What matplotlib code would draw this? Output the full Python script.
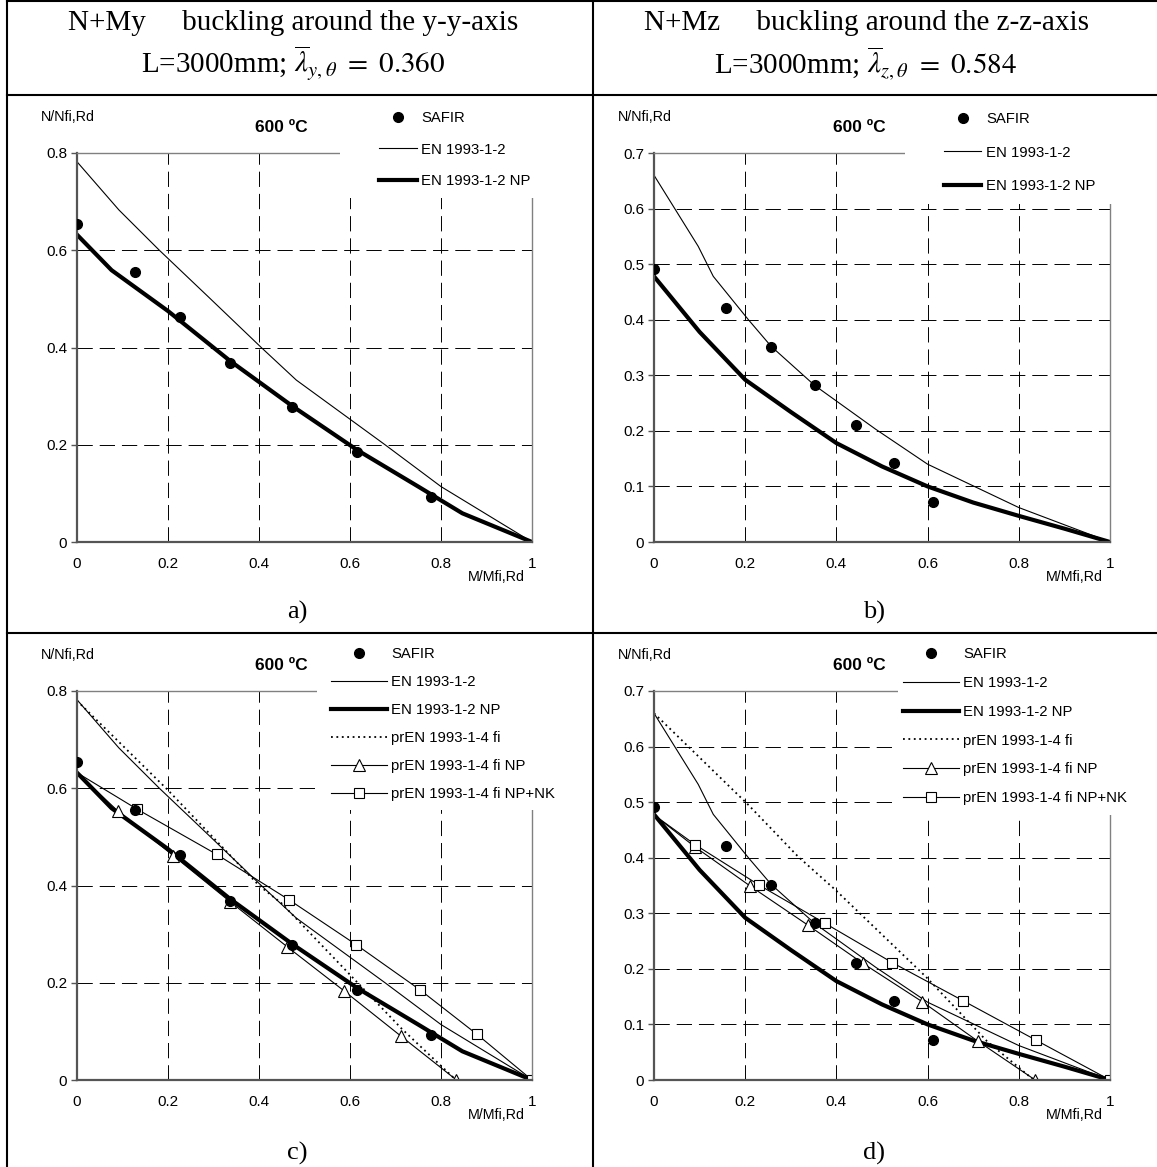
import matplotlib
matplotlib.use("Agg")
import matplotlib.pyplot as plt
from matplotlib.lines import Line2D
from matplotlib.patches import Rectangle

plt.rcParams['font.family'] = ['Liberation Sans', 'DejaVu Sans']
plt.rcParams['mathtext.fontset'] = 'stix'
plt.rcParams['lines.scale_dashes'] = False

# ---- values ----
# N+My, buckling around the y-y-axis (panels a and c)
safir_m_y = [0, 0.128, 0.227, 0.337, 0.472, 0.616, 0.779]
safir_n_y = [0.655, 0.556, 0.463, 0.369, 0.277, 0.186, 0.093]
en_m_y = [0, 0.092, 0.181, 0.29, 0.405, 0.482, 0.677, 0.80, 1.0]
en_n_y = [0.782, 0.683, 0.600, 0.503, 0.400, 0.333, 0.200, 0.114, 0.0]
np_m_y = [0, 0.076, 0.2, 0.337, 0.474, 0.616, 0.75, 0.847, 1.0]
np_n_y = [0.632, 0.559, 0.475, 0.372, 0.279, 0.189, 0.114, 0.059, 0.0]
fi_m_y = [0, 0.2, 0.4, 0.45, 0.713, 0.833]
fi_n_y = [0.78, 0.596, 0.40, 0.363, 0.106, 0.0]
tri_m_y = [0, 0.09, 0.212, 0.336, 0.462, 0.586, 0.711, 0.834]
tri_n_y = [0.632, 0.553, 0.461, 0.367, 0.274, 0.184, 0.091, 0.0]
sq_m_y = [0, 0.132, 0.307, 0.467, 0.614, 0.753, 0.879, 1.0]
sq_n_y = [0.632, 0.557, 0.464, 0.370, 0.278, 0.186, 0.094, 0.0]

# N+Mz, buckling around the z-z-axis (panels b and d)
safir_m_z = [0, 0.158, 0.257, 0.353, 0.442, 0.526, 0.612]
safir_n_z = [0.492, 0.421, 0.351, 0.282, 0.210, 0.143, 0.072]
en_m_z = [0, 0.097, 0.13, 0.207, 0.257, 0.352, 0.486, 0.6, 0.8, 1.0]
en_n_z = [0.66, 0.532, 0.478, 0.40, 0.352, 0.282, 0.203, 0.14, 0.062, 0.0]
np_m_z = [0, 0.1, 0.2, 0.3, 0.4, 0.5, 0.6, 0.7, 0.8, 0.9, 1.0]
np_n_z = [0.478, 0.378, 0.292, 0.234, 0.178, 0.136, 0.100, 0.071, 0.047, 0.024, 0.0]
fi_m_z = [0, 0.207, 0.316, 0.398, 0.596, 0.730, 0.833]
fi_n_z = [0.66, 0.495, 0.402, 0.342, 0.186, 0.07, 0.0]
tri_m_z = [0, 0.089, 0.211, 0.337, 0.458, 0.588, 0.710, 0.836]
tri_n_z = [0.477, 0.420, 0.349, 0.279, 0.210, 0.141, 0.070, 0.0]
sq_m_z = [0, 0.091, 0.230, 0.375, 0.523, 0.677, 0.837, 1.0]
sq_n_z = [0.477, 0.423, 0.351, 0.282, 0.211, 0.143, 0.072, 0.0]

x_ticks = [0, 0.2, 0.4, 0.6, 0.8, 1.0]
x_tick_labels = ["0", "0.2", "0.4", "0.6", "0.8", "1"]
y_ticks_y = [0, 0.2, 0.4, 0.6, 0.8]
y_tick_labels_y = ["0", "0.2", "0.4", "0.6", "0.8"]
y_ticks_z = [0, 0.1, 0.2, 0.3, 0.4, 0.5, 0.6, 0.7]
y_tick_labels_z = ["0", "0.1", "0.2", "0.3", "0.4", "0.5", "0.6", "0.7"]

series_names = ["SAFIR", "EN 1993-1-2", "EN 1993-1-2 NP", "prEN 1993-1-4 fi",
                "prEN 1993-1-4 fi NP", "prEN 1993-1-4 fi NP+NK"]

W, H = 1157, 1167
fig = plt.figure(figsize=(W / 100, H / 100), dpi=100)


def fx(px):
    return px / W


def fy(py):
    return 1 - py / H


# table borders
for x0, y0, x1, y1 in [(7, 1, 1157, 1), (7, 95, 1157, 95), (7, 633, 1157, 633),
                       (7, 0, 7, 1167), (593, 0, 593, 1167)]:
    fig.add_artist(Line2D([fx(x0), fx(x1)], [fy(y0), fy(y1)], color='black', lw=1.5))

serif = ['Liberation Serif', 'DejaVu Serif']
fig.text(fx(293), fy(23), "N+My     buckling around the y-y-axis", family=serif,
         size=21, ha='center', va='center')
fig.text(fx(293), fy(63), r"L=3000mm; $\overline{\lambda}_{y,\theta}\ =\ 0.360$", family=serif,
         size=21, ha='center', va='center')
fig.text(fx(866), fy(23), "N+Mz     buckling around the z-z-axis", family=serif,
         size=21, ha='center', va='center')
fig.text(fx(866), fy(63), r"L=3000mm; $\overline{\lambda}_{z,\theta}\ =\ 0.584$", family=serif,
         size=21, ha='center', va='center')


def make_axes(x0, x1, y_top, y_bot):
    return fig.add_axes([fx(x0), fy(y_bot), (x1 - x0) / W, (y_bot - y_top) / H])


def panel(ax, ymax, yticks, ylabels, data, full, cover, leg_xy, handlelen, spacing, caption, cap_xy):
    (sm, sn), (em, en), (nm, nn), (fm, fn), (tm, tn), (qm, qn) = data
    ax.plot(sm, sn, 'o', color='black', ms=7, label=series_names[0], zorder=4)
    ax.plot(em, en, '-', color='black', lw=0.8, label=series_names[1])
    ax.plot(nm, nn, '-', color='black', lw=3.0, label=series_names[2])
    if full:
        ax.plot(fm, fn, color='black', lw=1.3, ls=(0, (1.3, 2.6)), label=series_names[3])
        ax.plot(tm, tn, '-', color='black', lw=0.8, marker='^', ms=8, mfc='white',
                mec='black', mew=0.8, markevery=list(range(1, len(tm))), label=series_names[4])
        ax.plot(qm, qn, '-', color='black', lw=0.8, marker='s', ms=7, mfc='white',
                mec='black', mew=0.8, markevery=list(range(1, len(qm))), label=series_names[5])

    ax.set_xlim(0, 1)
    ax.set_ylim(0, ymax)
    ax.set_xticks(x_ticks)
    ax.set_xticklabels(x_tick_labels)
    ax.set_yticks(yticks)
    ax.set_yticklabels(ylabels)
    ax.grid(True, color='black', lw=0.7, ls=(0, (11, 5)))
    ax.set_axisbelow(True)
    for side in ['left', 'bottom']:
        ax.spines[side].set_color('#555555')
        ax.spines[side].set_linewidth(1.6)
    for side in ['top', 'right']:
        ax.spines[side].set_color('#808080')
        ax.spines[side].set_linewidth(1.0)
    ax.tick_params(axis='y', direction='out', length=4, width=1, color='#555555',
                   labelsize=11, pad=3)
    ax.tick_params(axis='x', length=0, labelsize=11, pad=11)

    # white area behind the legend (hides top/right frame and grid)
    ax.add_patch(Rectangle((cover[0], cover[1]), 0.6, 0.4, transform=ax.transAxes,
                           facecolor='white', edgecolor='none', zorder=3, clip_on=False))

    ax.text(-0.079, 1.093, "N/Nfi,Rd", transform=ax.transAxes, ha='left', va='center', size=10.3)
    ax.text(0.45, 1.066, "600 ºC", transform=ax.transAxes, ha='center', va='center',
            size=12.5, weight='bold')
    ax.text(0.985, -0.089, "M/Mfi,Rd", transform=ax.transAxes, ha='right', va='center', size=10.3)

    ax.legend(loc='upper left', bbox_to_anchor=leg_xy, bbox_transform=ax.transAxes,
              frameon=False, borderpad=0, borderaxespad=0, handlelength=handlelen,
              handletextpad=0.3, labelspacing=spacing, fontsize=10.7, numpoints=1)

    fig.text(fx(cap_xy[0]), fy(cap_xy[1]), caption, family=serif, size=19,
             ha='center', va='center')


data_y = [(safir_m_y, safir_n_y), (en_m_y, en_n_y), (np_m_y, np_n_y),
          (fi_m_y, fi_n_y), (tri_m_y, tri_n_y), (sq_m_y, sq_n_y)]
data_z = [(safir_m_z, safir_n_z), (en_m_z, en_n_z), (np_m_z, np_n_z),
          (fi_m_z, fi_n_z), (tri_m_z, tri_n_z), (sq_m_z, sq_n_z)]

ax_a = make_axes(77, 532, 153, 542)
panel(ax_a, 0.8, y_ticks_y, y_tick_labels_y, data_y, False, (0.577, 0.884),
      (0.664, 1.108), 2.55, 1.18, "a)", (297, 612))

ax_b = make_axes(654, 1110, 153, 542)
panel(ax_b, 0.7, y_ticks_z, y_tick_labels_z, data_z, False, (0.55, 0.868),
      (0.635, 1.105), 2.55, 1.31, "b)", (874, 612))

ax_c = make_axes(77, 532, 691, 1080)
panel(ax_c, 0.8, y_ticks_y, y_tick_labels_y, data_y, True, (0.528, 0.694),
      (0.558, 1.113), 3.75, 0.94, "c)", (297, 1153))

ax_d = make_axes(654, 1110, 691, 1080)
panel(ax_d, 0.7, y_ticks_z, y_tick_labels_z, data_z, True, (0.535, 0.681),
      (0.546, 1.113), 3.75, 1.0, "d)", (874, 1153))

fig.savefig("out.png", dpi=100)
